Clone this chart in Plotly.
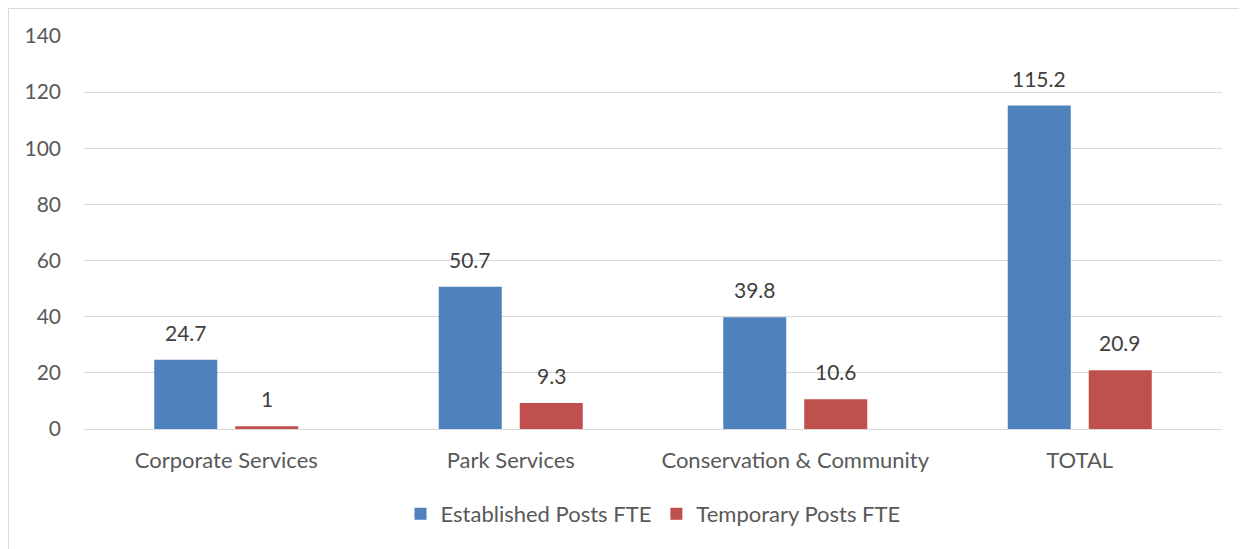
import plotly.graph_objects as go

categories = ["Corporate Services", "Park Services", "Conservation & Community", "TOTAL"]
established = [24.7, 50.7, 39.8, 115.2]
temporary = [1, 9.3, 10.6, 20.9]
y_ticks = [0, 20, 40, 60, 80, 100, 120, 140]

BLUE = "#4F81BD"
RED = "#C0504D"
TXT = "#595959"
LBL = "#404040"
FONT = "Lato"
FS = 21

# page body has an 8px margin: figure drawn at (8, 8) in the window
W, H = 1239, 541
L, T = 76, 28
PLOT_W = 1214 - L
PLOT_H = 421 - T

fig = go.Figure()
fig.add_trace(go.Bar(name="Established Posts FTE", x=categories, y=established,
                     marker=dict(color=BLUE, line=dict(width=0))))
fig.add_trace(go.Bar(name="Temporary Posts FTE", x=categories, y=temporary,
                     marker=dict(color=RED, line=dict(width=0))))

annotations = []
for series, shift in ((established, -40.5), (temporary, 40.5)):
    for c, v in zip(categories, series):
        annotations.append(dict(x=c, y=v, xref="x", yref="y", text=f"{v:g}",
                                showarrow=False, xshift=shift, yshift=13,
                                yanchor="bottom",
                                font=dict(family=FONT, size=FS, color=LBL)))

fig.update_layout(
    width=W, height=H,
    margin=dict(l=L, r=W - 1214, t=T, b=H - 421),
    paper_bgcolor="white", plot_bgcolor="white",
    barmode="group", bargap=0.4306, bargroupgap=0.222,
    font=dict(family=FONT, size=FS, color=TXT),
    showlegend=True,
    legend=dict(orientation="h", x=0.5, xanchor="center",
                y=(421 - 506) / PLOT_H, yanchor="middle",
                font=dict(family=FONT, size=22, color=TXT), itemwidth=30,
                traceorder="normal"),
    annotations=annotations,
    shapes=[dict(type="rect", xref="paper", yref="paper",
                 x0=(0.5 - L) / PLOT_W, x1=1.2, y0=-0.5, y1=(421 - 0.5) / PLOT_H,
                 line=dict(color="#D9D9D9", width=1), fillcolor="rgba(0,0,0,0)",
                 layer="below")],
)
fig.update_xaxes(showgrid=False, showline=True, linecolor="#D9D9D9", linewidth=1,
                 ticks="", ticklabelstandoff=12,
                 tickfont=dict(family=FONT, size=22, color=TXT))
fig.update_yaxes(range=[0, 140], tickvals=y_ticks, showgrid=True, gridcolor="#D9D9D9",
                 gridwidth=1, zeroline=False, showline=False, ticks="",
                 ticklabelstandoff=22,
                 tickfont=dict(family=FONT, size=FS, color=TXT))

fig.write_html("out.html")
